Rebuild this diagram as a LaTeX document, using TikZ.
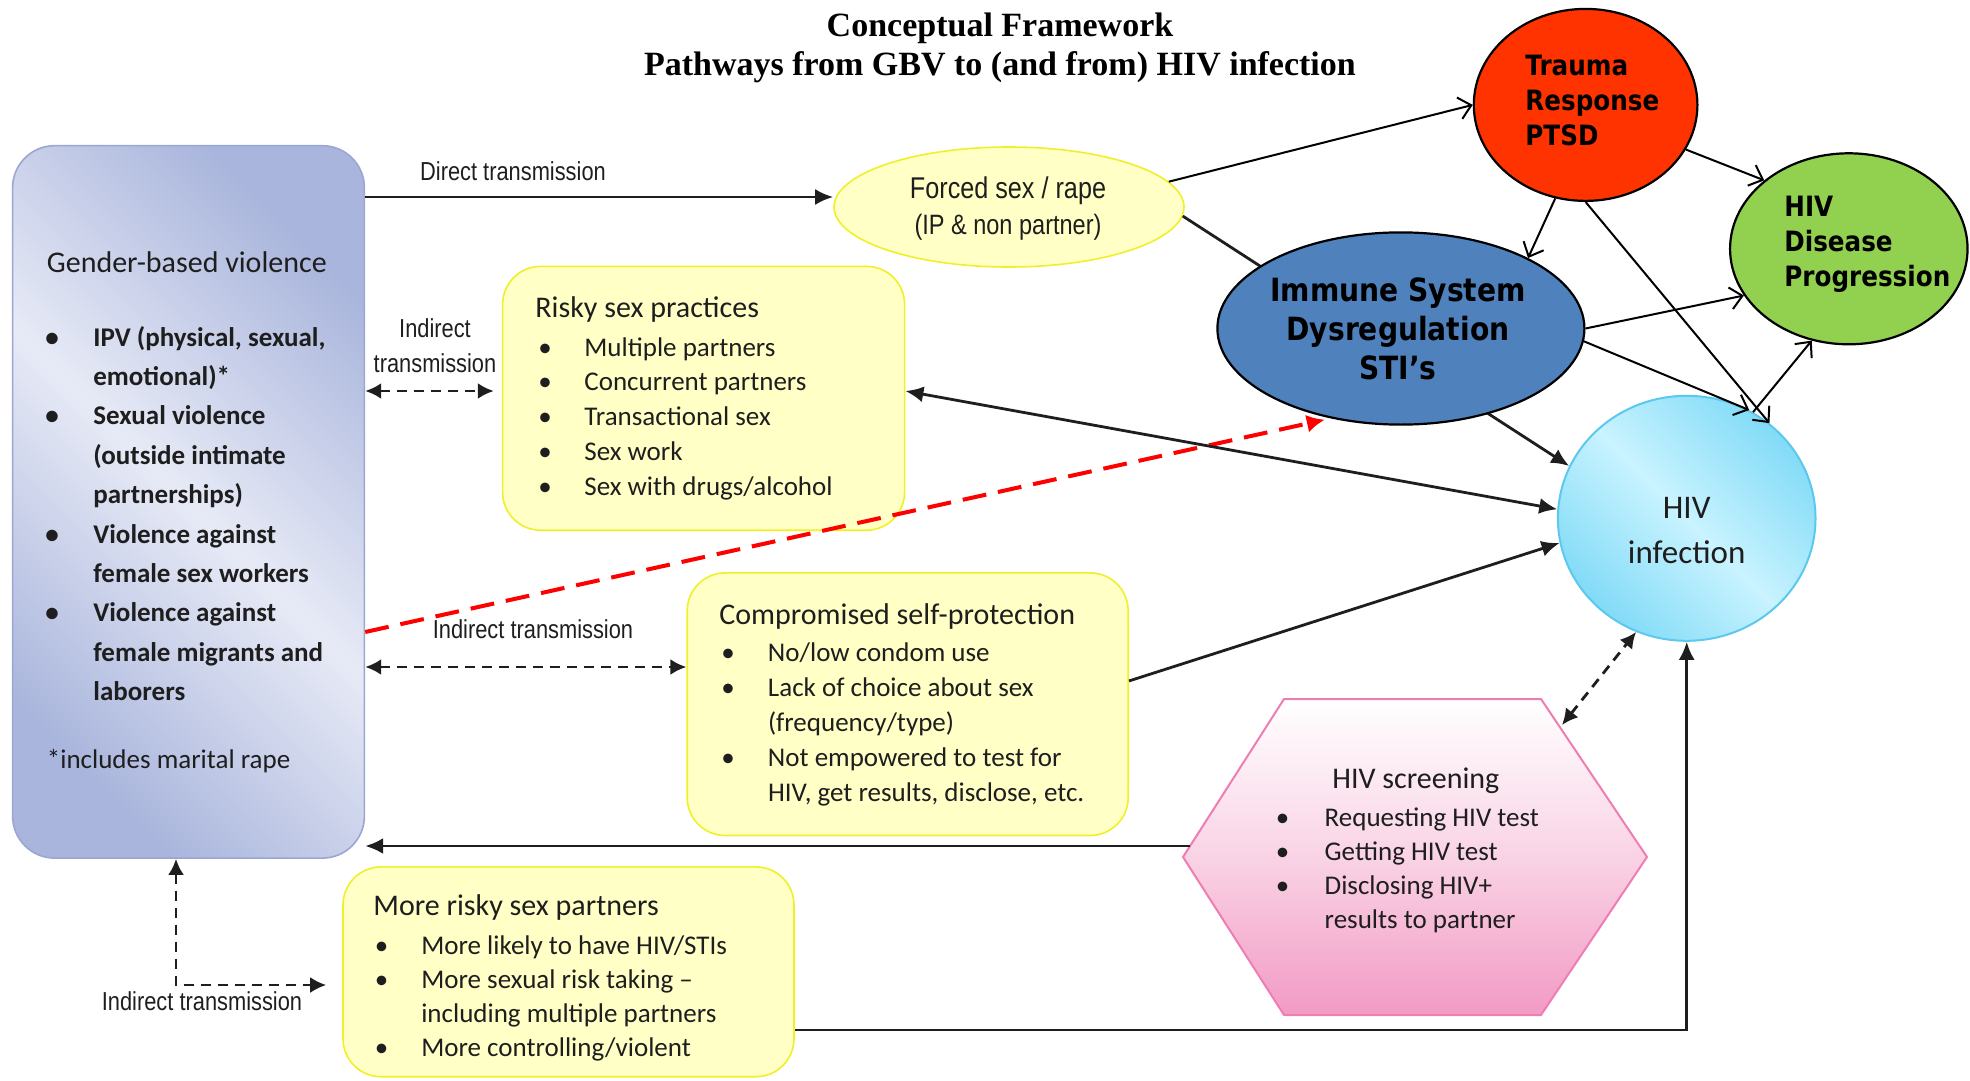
\documentclass[tikz,border=0pt]{standalone}
\usepackage{fontspec}
\setmainfont{Carlito}
\newfontfamily\narrowfont[FakeStretch=0.84]{Liberation Sans}
\newfontfamily\ellfont[FakeStretch=0.88]{DejaVu Sans}
\newfontfamily\headfont{Liberation Serif}
\usetikzlibrary{shapes.geometric,arrows.meta}

\definecolor{boxfill}{HTML}{FFFFC6}
\definecolor{boxline}{HTML}{F0F02A}
\definecolor{gbvdark}{HTML}{A9B5DC}
\definecolor{gbvlight}{HTML}{E7EAF6}
\definecolor{gbvline}{HTML}{9AA7D2}
\definecolor{traumared}{HTML}{FF3300}
\definecolor{progreen}{HTML}{92D050}
\definecolor{immuneblue}{HTML}{4F81BD}
\definecolor{infdark}{HTML}{82DBF7}
\definecolor{inflight}{HTML}{C9F3FF}
\definecolor{infline}{HTML}{5CC8EE}
\definecolor{hexpink}{HTML}{F29AC4}
\definecolor{hexmid}{HTML}{F9D3E5}
\definecolor{hexline}{HTML}{EF7DB4}
\definecolor{inkgray}{HTML}{1E1E1E}

\begin{document}
\begin{tikzpicture}[x=0.5pt,y=-0.5pt,
  ybox/.style={draw=boxline, line width=0.8pt, fill=boxfill, rounded corners=19pt, inner sep=0pt},
  gbvbox/.style={draw=gbvline, line width=0.8pt, rounded corners=21pt, inner sep=0pt,
    top color=gbvdark, bottom color=gbvdark, middle color=gbvlight, shading angle=-45},
  ell/.style={ellipse, draw=black, line width=1.1pt, inner sep=0pt},
  conn/.style={line width=1.4pt, draw=inkgray, -{Latex[length=9pt,width=8pt]}},
  thinarrow/.style={line width=1pt, draw=black, -{Straight Barb[length=6pt,width=11pt]}},
  dashconn/.style={line width=1.4pt, draw=inkgray, dash pattern=on 5pt off 3.5pt,
    {Latex[length=8pt,width=8pt]}-{Latex[length=8pt,width=8pt]}},
  reddash/.style={draw=red, line width=2pt, dash pattern=on 12pt off 6pt, -{Latex[length=9pt,width=9pt]}},
  lbl/.style={font=\narrowfont\fontsize{13}{17.5}\selectfont, inner sep=0pt, text=inkgray},
  hdr/.style={font=\fontsize{15}{18}\selectfont, anchor=base west, inner sep=0pt, text=inkgray},
  lst/.style={anchor=base west, inner sep=0pt, text=inkgray},
  elltxt/.style={font=\ellfont\bfseries\fontsize{14}{17.5}\selectfont, inner sep=0pt, align=left}
]
\useasboundingbox (0,0) rectangle (1970,1081);

% heading
\node[font=\headfont\bfseries\fontsize{17}{19.5}\selectfont, align=center, inner sep=0pt] (title) at (1000,47.5)
  {Conceptual Framework\\Pathways from GBV to (and from) HIV infection};

% gender-based violence panel
\node[gbvbox, minimum width=175.9pt, minimum height=356.2pt] (gbv) at (188.5,501.9) {};
\node[hdr] (gbvtitle) at (46.5,272) {Gender-based violence};
\node[lst, font=\bfseries\fontsize{13.5}{19.7}\selectfont] (gbvlist) at (45,346)
  {\begin{tabular}[t]{@{}p{24pt}@{}l@{}}
   \textbullet & IPV (physical, sexual,\\
               & emotional)*\\
   \textbullet & Sexual violence\\
               & (outside intimate\\
               & partnerships)\\
   \textbullet & Violence against\\
               & female sex workers\\
   \textbullet & Violence against\\
               & female migrants and\\
               & laborers
   \end{tabular}};
\node[lst, font=\fontsize{13.5}{17}\selectfont] (gbvnote) at (46.5,768) {*includes marital rape};

% yellow boxes
\node[ybox, minimum width=201pt, minimum height=131.9pt] (risky) at (703.6,398.3) {};
\node[hdr] (riskytitle) at (535,317) {Risky sex practices};
\node[lst, font=\fontsize{13.5}{17.45}\selectfont] (riskylist) at (538,356)
  {\begin{tabular}[t]{@{}p{23pt}@{}l@{}}
   \textbullet & Multiple partners\\
   \textbullet & Concurrent partners\\
   \textbullet & Transactional sex\\
   \textbullet & Sex work\\
   \textbullet & Sex with drugs/alcohol
   \end{tabular}};

\node[ybox, minimum width=220.5pt, minimum height=131.3pt] (comp) at (907.7,704.2) {};
\node[hdr] (comptitle) at (719,624) {Compromised self-protection};
\node[lst, font=\fontsize{13.5}{17.5}\selectfont] (complist) at (721,661)
  {\begin{tabular}[t]{@{}p{23.3pt}@{}l@{}}
   \textbullet & No/low condom use\\
   \textbullet & Lack of choice about sex\\
               & (frequency/type)\\
   \textbullet & Not empowered to test for\\
               & HIV, get results, disclose, etc.
   \end{tabular}};

\node[ybox, minimum width=225.5pt, minimum height=104.9pt] (more) at (568.5,971.8) {};
\node[hdr] (moretitle) at (373,915) {More risky sex partners};
\node[lst, font=\fontsize{13.5}{17.15}\selectfont] (morelist) at (374.5,954)
  {\begin{tabular}[t]{@{}p{23.2pt}@{}l@{}}
   \textbullet & More likely to have HIV/STIs\\
   \textbullet & More sexual risk taking --\\
               & including multiple partners\\
   \textbullet & More controlling/violent
   \end{tabular}};

% HIV screening hexagon
\coordinate (hexL) at (1183,857);
\coordinate (hexTL) at (1284,699);
\coordinate (hexTR) at (1541,699);
\coordinate (hexR) at (1647,857);
\coordinate (hexBR) at (1541,1015);
\coordinate (hexBL) at (1284,1015);
\path[draw=hexline, line width=1pt, top color=white, bottom color=hexpink, middle color=hexmid]
  (hexL) -- (hexTL) -- (hexTR) -- (hexR) -- (hexBR) -- (hexBL) -- cycle;
\node[hdr] (hextitle) at (1332,788) {HIV screening};
\node[lst, font=\fontsize{13.5}{17.15}\selectfont] (hexlist) at (1275.5,826)
  {\begin{tabular}[t]{@{}p{24.4pt}@{}l@{}}
   \textbullet & Requesting HIV test\\
   \textbullet & Getting HIV test\\
   \textbullet & Disclosing HIV+\\
               & results to partner
   \end{tabular}};

% ellipses
\node[ellipse, draw=boxline, line width=0.8pt, fill=boxfill, inner sep=0pt,
      minimum width=175pt, minimum height=60pt] (fsex) at (1009,207) {};
\node[font=\narrowfont\fontsize{15}{18}\selectfont, align=center, inner sep=0pt, text=inkgray] (fsextxt) at (1008,209)
  {Forced sex / rape\\{\fontsize{14}{18}\selectfont (IP \& non partner)}};

\node[ellipse, draw=infline, line width=1pt, inner sep=0pt, minimum width=128.8pt, minimum height=122.5pt,
      top color=infdark, bottom color=infdark, middle color=inflight, shading angle=-45] (hivinf) at (1686.7,518.3) {};
\node[font=\fontsize{16.5}{22.5}\selectfont, align=center, inner sep=0pt, text=inkgray] (hivinftxt) at (1686.7,531)
  {HIV\\infection};

% forced sex leads on to HIV infection, passing behind the immune ellipse
\draw[conn] (fsex.-3) -- (hivinf.156);

\node[ell, fill=immuneblue, minimum width=183.5pt, minimum height=96.1pt] (immune) at (1400.9,328.5) {};
\node[elltxt, align=center, font=\ellfont\bfseries\fontsize{16}{19.5}\selectfont] (immunetxt) at (1398,329)
  {Immune System\\Dysregulation\\STI’s};

\node[ell, fill=traumared, minimum width=111.8pt, minimum height=96pt] (trauma) at (1585.6,104.9) {};
\node[elltxt, anchor=west] (traumatxt) at (1525,100.5) {Trauma\\Response\\PTSD};

\node[ell, fill=progreen, minimum width=118.75pt, minimum height=95.5pt] (hivdp) at (1848.8,248.8) {};
\node[elltxt, anchor=west] (hivdptxt) at (1784,244) {HIV\\Disease\\Progression};

% connector labels
\node[lbl] (lbldirect) at (513,171) {Direct transmission};
\node[lbl, align=center] (lblind1) at (435,345.5) {Indirect\\transmission};
\node[lbl] (lblind2) at (533,629) {Indirect transmission};
\node[lbl] (lblind3) at (202,1001) {Indirect transmission};

% connectors from the GBV panel
\coordinate (yDT) at (0,197);
\draw[conn] (gbv.east |- yDT) -- (fsex.west |- yDT);
\coordinate (yR) at (0,391);
\draw[dashconn, shorten >=4pt] (gbv.east |- yR) -- (risky.west |- yR);
\coordinate (yC) at (0,667);
\draw[dashconn] (gbv.east |- yC) -- (comp.west |- yC);
\coordinate (elb) at (176,985);
\draw[dashconn, shorten >=8pt] (gbv.south -| elb) |- (more.west |- elb);
\coordinate (yRed) at (0,632);
\draw[reddash, shorten >=3pt] (gbv.east |- yRed) -- (immune.232);

% connectors into HIV infection
\coordinate (yRK) at (0,391);
\draw[conn, {Latex[length=9pt,width=8pt]}-{Latex[length=9pt,width=8pt]}] (risky.east |- yRK) -- (hivinf.176);
\draw[conn] (comp.6) -- (hivinf.191);
\coordinate (hexW) at (1190,846);
\draw[conn] (hexW) -- (gbv.east |- hexW);
\coordinate (yB) at (0,1030);
\draw[conn] (more.east |- yB) -| (hivinf.south);
\coordinate (hexNE) at (1562,725);
\draw[dashconn] (hexNE) -- (hivinf.246);

% biological pathways
\draw[thinarrow] (fsex.9) -- (trauma.west);
\draw[thinarrow] (trauma.252) -- (immune.29);
\draw[thinarrow] (trauma.-24) -- (hivdp.141);
\draw[thinarrow] (trauma.south) -- (hivinf.49);
\draw[thinarrow] (immune.east) -- (hivdp.204);
\draw[thinarrow] (immune.-4) -- (hivinf.60);
\draw[thinarrow] (hivinf.58) -- (hivdp.248);
\end{tikzpicture}
\end{document}
